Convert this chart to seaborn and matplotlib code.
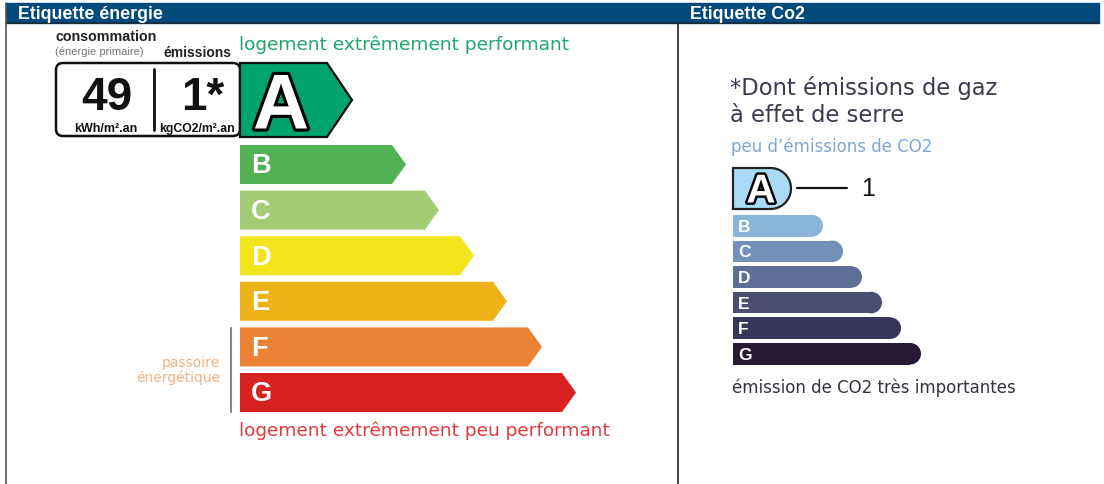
import numpy as np
import matplotlib
matplotlib.use("Agg")
import matplotlib.pyplot as plt
import seaborn as sns
from matplotlib.patches import Polygon, Rectangle, FancyBboxPatch, Circle
import matplotlib.patheffects as pe

sns.set_theme(style="white")
plt.rcParams["font.family"] = ["Liberation Sans", "DejaVu Sans"]

# ---- data ----
classes = ["A", "B", "C", "D", "E", "F", "G"]
energy_colors = ["#00a36c", "#52b153", "#a3cc74", "#f2e51c", "#efb31a", "#eb8236", "#d7221f"]
energy_len = [112, 166, 199, 234, 267, 302, 336]     # arrow length (tip)
co2_colors = ["#a9dbf6", "#8ab4d8", "#7191b8", "#5e6f96", "#4b4d72", "#38355a", "#281a35"]
co2_len = [58, 90, 110, 129, 149, 168, 188]
conso_value = "49"
ges_value = "1*"
co2_value = "1"
conso_unit = "kWh/m².an"
ges_unit = "kgCO2/m².an"
header_titles = ["Etiquette énergie", "Etiquette Co2"]
energy_top_label = "logement extrêmement performant"
energy_bottom_label = "logement extrêmement peu performant"
passoire_label = ["passoire", "énergétique"]
co2_title = ["*Dont émissions de gaz", "à effet de serre"]
co2_top_label = "peu d\u2019émissions de CO2"
co2_bottom_label = "émission de CO2 très importantes"

W, H = 1104, 485
fig = plt.figure(figsize=(W / 100, H / 100), dpi=100)
ax = fig.add_axes([0, 0, 1, 1])
ax.set_xlim(0, W)
ax.set_ylim(H, 0)
ax.axis("off")

century = ["DejaVu Sans"]

# header + frame
ax.add_patch(Rectangle((6, 4), 1093, 20, color="#034a7c", zorder=2))
ax.plot([6, 1099], [24, 24], color="#1b2a3a", lw=1.2, zorder=3)
ax.plot([6, 6], [4, H], color="#555555", lw=1.2, zorder=3)
ax.plot([678, 678], [24, H], color="#222222", lw=1.2, zorder=3)
ax.text(18, 14.5, header_titles[0], color="white", fontsize=12.8, fontweight="bold",
        va="center", ha="left", zorder=4)
ax.text(690, 14.5, header_titles[1], color="white", fontsize=12.8, fontweight="bold",
        va="center", ha="left", zorder=4)

outline = [pe.withStroke(linewidth=4.5, foreground="black")]

# ---- energy label ----
x0 = 240
# A arrow with value box
ax.add_patch(FancyBboxPatch((56, 64), 184, 73, boxstyle="round,pad=0,rounding_size=7",
                            fc="white", ec="#111111", lw=1.8, zorder=2))
a_top, a_bot = 64, 138
a_mid = (a_top + a_bot) / 2
La = energy_len[0]
ax.add_patch(Polygon([(x0, a_top), (x0 + La - 25, a_top), (x0 + La, a_mid),
                      (x0 + La - 25, a_bot), (x0, a_bot)], closed=True,
                     fc=energy_colors[0], ec="#111111", lw=1.6, zorder=3))
ax.text(x0 + 41, a_mid + 8, classes[0], color="white", fontsize=56, fontweight="bold",
        ha="center", va="center", path_effects=outline, zorder=4)
ax.plot([154, 154], [70, 131], color="#111111", lw=2, zorder=3)
ax.text(107, 98, conso_value, fontsize=33, fontweight="bold", ha="center", va="center", color="#111111")
ax.text(203, 98, ges_value, fontsize=33, fontweight="bold", ha="center", va="center", color="#111111")
ax.text(106, 129, conso_unit, fontsize=9, fontweight="bold", ha="center", va="center", color="#111111")
ax.text(197, 129, ges_unit, fontsize=8.8, fontweight="bold", ha="center", va="center", color="#111111")
ax.text(55, 37, "consommation", fontsize=10.3, fontweight="bold", ha="left", va="center", color="#222222")
ax.text(55, 52, "(énergie primaire)", fontsize=8, ha="left", va="center", color="#777777")
ax.text(163, 53, "émissions", fontsize=10, fontweight="bold", ha="left", va="center", color="#222222")
ax.text(239, 45, energy_top_label, fontsize=13.3, color="#1fa66f", ha="left", va="center",
        family=century)

row_h, pitch, first_top = 39, 45.6, 146
for i in range(1, 7):
    top = first_top + (i - 1) * pitch
    bot = top + row_h
    mid = (top + bot) / 2
    L = energy_len[i]
    ax.add_patch(Polygon([(x0, top), (x0 + L - 14, top), (x0 + L, mid),
                          (x0 + L - 14, bot), (x0, bot)], closed=True,
                         fc=energy_colors[i], ec="none", zorder=3))
    ax.text(x0 + 11, mid + 1, classes[i], color="white", fontsize=19.5, fontweight="bold",
            ha="left", va="center", zorder=4)

ax.text(239, 431, energy_bottom_label, fontsize=13.3, color="#e03a3e", ha="left", va="center",
        family=century)
ax.plot([231, 231], [329, 413], color="#888888", lw=1.5)
ax.text(220, 363, passoire_label[0], fontsize=10, color="#f4b183", ha="right", va="center", family=century)
ax.text(220, 378, passoire_label[1], fontsize=10, color="#f4b183", ha="right", va="center", family=century)

# ---- CO2 label ----
cx0 = 733
ax.text(730, 88, co2_title[0], fontsize=16.3, color="#3b3a50", ha="left", va="center", family=century)
ax.text(730, 115, co2_title[1], fontsize=16.3, color="#3b3a50", ha="left", va="center", family=century)
ax.text(731, 147, co2_top_label, fontsize=12, color="#7ea6d2", ha="left", va="center", family=century)

# A shape (D shape with border)
t, b = 169, 210
r = (b - t) / 2
La = co2_len[0]
ang = np.linspace(-np.pi / 2, np.pi / 2, 40)
pts = [(cx0, b), (cx0, t)] + [(cx0 + La - r + r * np.cos(a), t + r + r * np.sin(a)) for a in ang]
ax.add_patch(Polygon(pts, closed=True, fc=co2_colors[0], ec="#222222", lw=1.6, zorder=3))
ax.text(cx0 + 28, t + r + 3, classes[0], color="white", fontsize=29, fontweight="bold",
        ha="center", va="center", path_effects=[pe.withStroke(linewidth=3.5, foreground="black")], zorder=4)
ax.plot([797, 847], [189, 189], color="#111111", lw=1.6)
ax.text(868, 189, co2_value, fontsize=18, color="#111111", ha="center", va="center")

c_h, c_pitch, c_top = 21.5, 25.6, 216
for i in range(1, 7):
    top = c_top + (i - 1) * c_pitch
    mid = top + c_h / 2
    rr = c_h / 2
    L = co2_len[i]
    ax.add_patch(Rectangle((cx0, top), L - rr, c_h, fc=co2_colors[i], ec="none", zorder=3))
    ax.add_patch(Circle((cx0 + L - rr, mid), rr, fc=co2_colors[i], ec="none", zorder=3))
    ax.text(cx0 + 5, mid + 0.5, classes[i], color="white", fontsize=12.5, fontweight="bold",
            ha="left", va="center", zorder=4)

ax.text(732, 388, co2_bottom_label, fontsize=12, color="#333340", ha="left", va="center", family=century)

fig.savefig("out.png", dpi=100)
